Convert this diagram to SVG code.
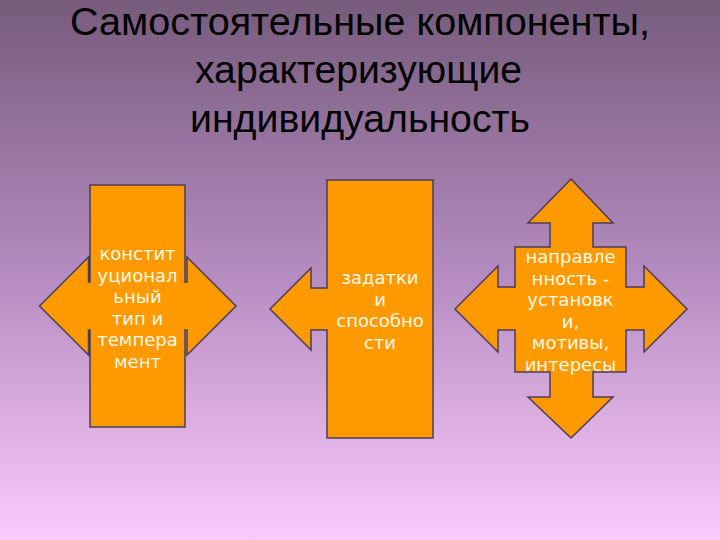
<svg xmlns="http://www.w3.org/2000/svg" width="720" height="540" viewBox="0 0 720 540">
<defs>
<linearGradient id="bg" x1="0" y1="0" x2="0" y2="1">
<stop offset="0" stop-color="#765b7b"/>
<stop offset="0.5" stop-color="#b48bbf"/>
<stop offset="1" stop-color="#fcc9fc"/>
</linearGradient>
</defs>
<style>
.title{font-family:"Liberation Sans",Arial,sans-serif;font-size:38px;fill:#000;text-anchor:middle}
.shape{fill:#ff9900;stroke:#4a3c5a;stroke-width:1.5;stroke-linejoin:miter}
.lbl{font-family:"DejaVu Sans",sans-serif;font-size:18px;fill:#fff9e8;text-anchor:middle}
</style>
<rect width="720" height="540" fill="url(#bg)"/>
<g id="title">
<text class="title" x="360" y="34.5" textLength="580" lengthAdjust="spacingAndGlyphs">Самостоятельные компоненты,</text>
<text class="title" x="358.5" y="83" textLength="327" lengthAdjust="spacingAndGlyphs">характеризующие</text>
<text class="title" x="360" y="131.5" textLength="340" lengthAdjust="spacingAndGlyphs">индивидуальность</text>
</g>
<g id="connectors"></g>
<g id="node1">
<path class="shape" d="M90,185 H185 V282 H187 V257 L236,306 L187,355 V330 H185 V427 H90 V330 H88.5 V355 L39.5,306 L88.5,257 V282 H90 Z"/>
<text class="lbl" x="137.5" y="260">констит</text>
<text class="lbl" x="137.5" y="281.6">уционал</text>
<text class="lbl" x="137.5" y="303.2">ьный</text>
<text class="lbl" x="137.5" y="324.8">тип и</text>
<text class="lbl" x="137.5" y="346.4">темпера</text>
<text class="lbl" x="137.5" y="368">мент</text>
</g>
<g id="node2">
<path class="shape" d="M327,180 H433 V438 H327 V330 H311 V350 L270,309 L311,268 V288 H327 Z"/>
<text class="lbl" x="380" y="284">задатки</text>
<text class="lbl" x="380" y="305.6">и</text>
<text class="lbl" x="380" y="327.2">способно</text>
<text class="lbl" x="380" y="348.8">сти</text>
</g>
<g id="node3">
<path class="shape" d="M571,179 L613,223 H593 V247 H626 V287 H644 V266 L687,309 L644,352 V330 H626 V372 H593 V397 H613 L571,438 L528,397 H550 V372 H515 V330 H498 V352 L455,309 L498,266 V287 H515 V247 H550 V223 H528 Z"/>
<text class="lbl" x="570.5" y="263">направле</text>
<text class="lbl" x="570.5" y="284.6">нность -</text>
<text class="lbl" x="570.5" y="306.2">установк</text>
<text class="lbl" x="570.5" y="327.8">и,</text>
<text class="lbl" x="570.5" y="349.4">мотивы,</text>
<text class="lbl" x="570.5" y="371">интересы</text>
</g>
</svg>
